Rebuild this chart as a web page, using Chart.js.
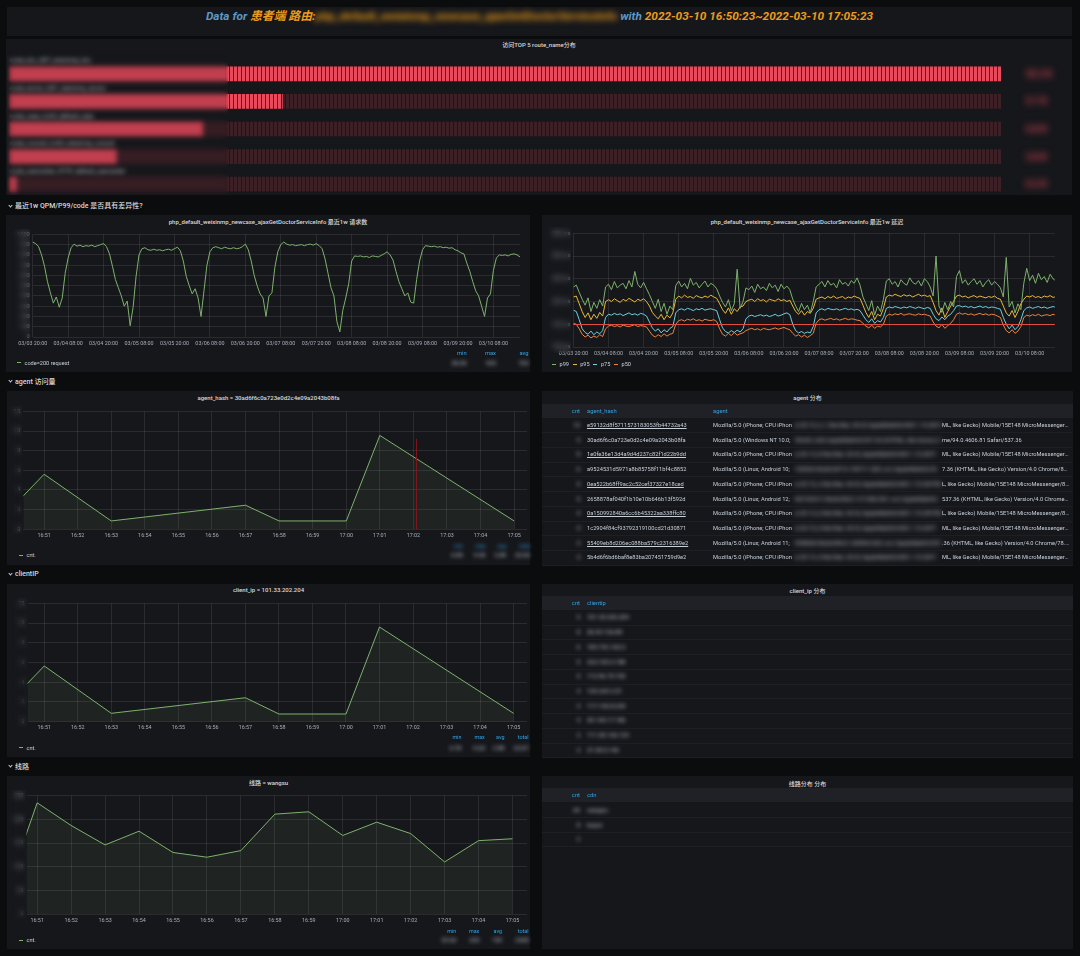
<!DOCTYPE html>
<html><head><meta charset="utf-8"><title>dashboard</title>
<script src="https://cdn.jsdelivr.net/npm/chart.js@4.4.1/dist/chart.umd.min.js"></script>
<style>
*{box-sizing:border-box}
html,body{margin:0;padding:0;width:1080px;height:956px;overflow:hidden;background:#0b0c0e;font-family:Roboto,"Noto Sans CJK SC",sans-serif;color:#d8d9da}
canvas{position:absolute;display:block}
.t{position:absolute;white-space:nowrap;font-size:5.6px;line-height:7px;color:#c7d0d9}
.chev{display:inline-block;width:3px;height:3px;border-right:1px solid #c7d0d9;border-bottom:1px solid #c7d0d9;transform:rotate(45deg);margin:0 3px 2px 1px;vertical-align:middle}
</style></head><body>
<script>
// ================= DATA =================
const ROUTE_NAMES = ['route_doc_GET_weixinmp_doc', 'route_doctor_GET_weixinmp_doctor', 'route_case_AJAX_default_case', 'route_consult_AJAX_weixinmp_consult', 'route_usercenter_HTTP_default_usercenter'];
const ROUTE_COUNTS = [35210, 9680, 6850, 3770, 220];

const WEEK_TICK_HOURS = [0, 12, 24, 36, 48, 60, 72, 84, 96, 108, 120, 132, 144, 156];
const WEEK_TICK_LABELS = ['03/03 20:00', '03/04 08:00', '03/04 20:00', '03/05 08:00', '03/05 20:00', '03/06 08:00', '03/06 20:00', '03/07 08:00', '03/07 20:00', '03/08 08:00', '03/08 20:00', '03/09 08:00', '03/09 20:00', '03/10 08:00'];
const QPM_TICKS = [0, 100, 200, 300, 400, 500, 600, 700, 800, 900, 1000];
// hourly samples from 03/03 20:00
const QPM_200 = [925, 910, 880, 800, 690, 540, 430, 330, 390, 290, 380, 620,
  770, 870, 905, 885, 895, 880, 890, 885, 895, 880, 890, 900, 910, 880,
  810, 690, 560, 480, 400, 300, 350, 110, 290, 590, 800, 860, 870,
  850, 845, 855, 845, 850, 840, 850, 855, 845, 860, 875, 840,
  740, 590, 500, 420, 470, 380, 200, 450, 700, 830,
  870, 880, 870, 860, 875, 865, 860, 870, 860, 865, 880, 905,
  850, 740, 600, 500, 420, 380, 200, 400, 430, 680, 830,
  900, 925, 905, 895, 900, 890, 895, 900, 890, 900, 905, 895, 910, 890,
  860, 760, 620, 480, 400, 150, 50, 260, 380, 520, 740, 790,
  785, 790, 780, 785, 775, 790, 785, 780, 795, 810, 830,
  800, 750, 640, 540, 470, 400, 430, 340, 330, 560, 740, 850,
  890, 885, 880, 885, 875, 880, 870, 875, 865, 870, 850, 840,
  820, 810, 720, 640, 540, 450, 400, 300, 200, 380, 420, 650, 770, 800,
  795, 800, 790, 805, 810, 800, 780];

const LATENCY_TICKS = [100, 150, 200, 250, 300, 350];
const LATENCY_THRESHOLD = 150;
const P99 = [232, 236, 220, 205, 192, 208, 178, 198, 185, 204, 190, 232,
  238, 226, 244, 230, 236, 240, 228, 246, 232, 266, 238, 230, 242, 228,
  215, 200, 185, 205, 178, 196, 172, 190, 182, 235,
  245, 232, 240, 228, 251, 236, 242, 230, 238, 245, 232, 240, 236, 228,
  212, 198, 188, 204, 180, 195, 271, 185, 200, 230,
  226, 234, 220, 238, 228, 232, 224, 240, 230, 236, 222, 238, 228, 234, 226,
  205, 190, 178, 196, 182, 192, 175, 200, 232,
  238, 244, 232, 246, 236, 240, 230, 248, 238, 242, 234, 246, 240, 252, 236,
  210, 195, 180, 202, 170, 190, 178, 205, 245,
  250, 238, 244, 232, 248, 240, 236, 252, 242, 238, 246, 234, 250, 244, 232,
  212, 300, 190, 176, 198, 182, 200, 188, 255,
  268, 240, 248, 236, 244, 250, 238, 246, 232, 242, 248, 236, 244, 238, 230,
  210, 297, 188, 200, 175, 195, 182, 240,
  273, 246, 258, 240, 262, 248, 255, 242, 260, 250, 245];
const P95 = [210, 212, 195, 178, 165, 175, 160, 172, 163, 176, 168, 200,
  204, 200, 206, 202, 198, 205, 201, 207, 203, 199, 205, 202, 206, 200,
  190, 176, 168, 162, 172, 160, 170, 164, 175, 205,
  212, 208, 214, 209, 211, 207, 213, 210, 208, 212, 209, 214, 210, 207,
  195, 182, 174, 186, 172, 184, 178, 188, 190, 200,
  203, 205, 200, 206, 202, 204, 199, 205, 203, 201, 206, 202, 204, 200, 203,
  190, 178, 172, 180, 170, 178, 174, 185, 205,
  208, 210, 206, 211, 208, 212, 207, 209, 211, 206, 210, 208, 212, 209, 207,
  192, 176, 165, 178, 160, 172, 168, 185, 210,
  214, 212, 216, 213, 211, 215, 212, 214, 210, 213, 216, 212, 214, 211, 213,
  198, 180, 170, 186, 165, 178, 190, 200, 212,
  214, 210, 212, 208, 211, 213, 209, 212, 210, 208, 211, 209, 212, 207, 205,
  190, 175, 168, 180, 165, 178, 195, 205,
  212, 210, 213, 209, 211, 208, 212, 210, 213, 209, 211];
const P75 = [181, 178, 160, 140, 132, 128, 135, 127, 133, 129, 136, 165,
  172, 170, 174, 171, 173, 169, 172, 175, 171, 173, 170, 174, 172, 168,
  155, 142, 135, 140, 131, 138, 133, 141, 145, 175,
  182, 184, 181, 185, 183, 180, 184, 182, 185, 181, 183, 184, 182, 180,
  160, 142, 134, 131, 136, 132, 137, 133, 140, 162,
  168, 170, 167, 169, 171, 168, 170, 167, 169, 172, 168, 170, 173, 175, 171,
  150, 136, 131, 134, 130, 133, 131, 145, 175,
  182, 184, 181, 185, 183, 182, 184, 181, 183, 185, 182, 184, 181, 183, 180,
  170, 160, 154, 162, 152, 158, 155, 165, 185,
  188, 186, 189, 187, 185, 188, 186, 189, 187, 185, 188, 186, 184, 187, 185,
  172, 162, 158, 166, 160, 168, 172, 180, 190,
  191, 188, 190, 187, 189, 186, 188, 190, 187, 189, 186, 188, 187, 185, 183,
  165, 150, 140, 148, 138, 145, 160, 180,
  186, 188, 185, 187, 189, 186, 188, 185, 187, 189, 187];
const P50 = [152, 150, 140, 128, 122, 126, 120, 124, 121, 127, 123, 140,
  146, 148, 145, 147, 144, 148, 146, 145, 147, 149, 145, 147, 146, 144,
  135, 126, 122, 127, 123, 129, 124, 128, 130, 150,
  158, 160, 157, 161, 159, 162, 158, 160, 157, 161, 159, 158, 160, 156,
  140, 128, 124, 130, 125, 132, 126, 129, 131, 136,
  139, 141, 138, 140, 137, 141, 139, 138, 140, 142, 139, 141, 143, 140, 138,
  130, 124, 127, 122, 126, 121, 125, 130, 152,
  160, 162, 159, 161, 163, 160, 162, 159, 161, 163, 160, 162, 161, 159, 158,
  152, 146, 142, 148, 141, 146, 144, 150, 168,
  172, 170, 173, 171, 174, 170, 172, 173, 171, 170, 173, 171, 172, 170, 168,
  155, 146, 142, 150, 141, 147, 152, 160, 172,
  175, 172, 174, 171, 173, 170, 172, 174, 171, 173, 170, 172, 171, 168, 165,
  148, 136, 131, 138, 130, 135, 145, 165,
  170, 168, 171, 169, 172, 168, 170, 171, 169, 172, 170];

const MINUTE_TICKS = [1, 2, 3, 4, 5, 6, 7, 8, 9, 10, 11, 12, 13, 14, 15];
const MINUTE_LABELS = ['16:51', '16:52', '16:53', '16:54', '16:55', '16:56', '16:57', '16:58', '16:59', '17:00', '17:01', '17:02', '17:03', '17:04', '17:05'];
const COUNT_TICKS = [0, 2, 4, 6, 8, 10, 12];
const AGENT_MINUTES = [0, 1, 3, 7, 8, 10, 11, 15];
const AGENT_CNT = [2.05, 5.6, 0.85, 2.45, 0.85, 0.85, 9.55, 0.85];
const AGENT_ANNOTATION_MINUTE = 12.08;
const AGENT_ANNOTATION_TOP = 9.2;
const CLIENT_MINUTES = [0, 1, 3, 7, 8, 10, 11, 15];
const CLIENT_CNT = [2.13, 5.65, 0.85, 2.43, 0.78, 0.78, 9.6, 0.85];
const CDN_TICKS = [0, 50, 100, 150, 200, 250];
const CDN_MINUTES = [0, 1, 2, 3, 4, 5, 6, 7, 8, 9, 10, 11, 12, 13, 14, 15];
const CDN_CNT = [29.6, 235, 187, 146, 175, 130, 120, 134, 211, 216, 166, 194, 170, 110, 155, 159];

const AGENT_HASHES = ['e59132d8f5711573183053fb44732a43', '30ad6f6c0a723e0d2c4e09a2043b08fa', '1e0fe36e13d4a9d4d237c82f1d22b9dd', 'a9524531d5971a8b85758f11bf4c8852', '0ea522b68ff9ac2c52cef37327e18ced', '2658878af040f1b10e10b646b13f592d', '0a150992840a6cc6b45322aa338ffc80', '1c2904f84cf93792319100cd21d30871', '55409eb8d206ec088ba579c2316389e2', '5b4d6f6bd6baf8e83ba207451759d9e2'];
const AGENT_HASH_LINKED = [true, false, true, false, true, false, true, false, true, false];
const AGENT_TABLE_CNT = [12, 9, 8, 6, 5, 5, 4, 4, 3, 3];
const AGENT_UA_HEAD = ['Mozilla/5.0 (iPhone; CPU iPhon', 'Mozilla/5.0 (Windows NT 10.0;', 'Mozilla/5.0 (iPhone; CPU iPhon', 'Mozilla/5.0 (Linux; Android 10;', 'Mozilla/5.0 (iPhone; CPU iPhon', 'Mozilla/5.0 (Linux; Android 12;', 'Mozilla/5.0 (iPhone; CPU iPhon', 'Mozilla/5.0 (iPhone; CPU iPhon', 'Mozilla/5.0 (Linux; Android 11;', 'Mozilla/5.0 (iPhone; CPU iPhon'];
const AGENT_UA_MID = ['e OS 15_3_1 like Mac OS X) AppleWebKit/605.1.15 (KHT', ' Win64; x64) AppleWebKit/537.36 (KHTML, like Gecko) Chro', 'e OS 14_8 like Mac OS X) AppleWebKit/605.1.15 (KHT', ' V2036A Build/QP1A.190711.020; wv) AppleWebKit/53', 'e OS 15_2 like Mac OS X) AppleWebKit/605.1.15 (KHTM', ' M2102K1C Build/SKQ1.211006.001; wv) AppleWebKit/', 'e OS 13_6 like Mac OS X) AppleWebKit/605.1.15 (KHTM', 'e OS 15_0 like Mac OS X) AppleWebKit/605.1.15 (KHT', ' PDEM30 Build/RKQ1.200903.002; wv) AppleWebKit/537', 'e OS 14_4 like Mac OS X) AppleWebKit/605.1.15 (KHT'];
const AGENT_UA_TAIL = ['ML, like Gecko) Mobile/15E148 MicroMessenger/8.0.18', 'me/94.0.4606.81 Safari/537.36', 'ML, like Gecko) Mobile/15E148 MicroMessenger/8.0.16', '7.36 (KHTML, like Gecko) Version/4.0 Chrome/86.0.4240', 'L, like Gecko) Mobile/15E148 MicroMessenger/8.0.18', '537.36 (KHTML, like Gecko) Version/4.0 Chrome/86.0', 'L, like Gecko) Mobile/15E148 MicroMessenger/8.0.17', 'ML, like Gecko) Mobile/15E148 MicroMessenger/8.0.18', '.36 (KHTML, like Gecko) Version/4.0 Chrome/78.0.3904', 'ML, like Gecko) Mobile/15E148 MicroMessenger/8.0.15'];

const CLIENT_IPS = ['101.33.202.204', '36.99.136.88', '183.192.163.2', '223.104.3.188', '112.96.70.153', '120.229.2.51', '117.136.8.243', '39.144.17.186', '111.55.126.129', '27.38.5.140'];
const CLIENT_TABLE_CNT = [9, 8, 6, 5, 5, 4, 4, 4, 3, 3];
const CDN_NAMES = ['wangsu', 'ksyun', ''];
const CDN_TABLE_CNT = [64, 8, 2];

// ================= HELPERS =================
const PANEL_BG = '#16171b';
const GRID = 'rgba(255,255,255,0.09)';
const TICK_COLOR = 'rgba(199,208,217,0.8)';
const GREEN = '#7EB26D', YELLOW = '#EAB839', CYAN = '#6ED0E0', ORANGE = '#EF843C', RED = '#E24D42';
const BLUE = '#33a2e5';

function box(x, y, w, h, bg, z) {
  const d = document.createElement('div');
  Object.assign(d.style, { position: 'absolute', left: x + 'px', top: y + 'px', width: w + 'px', height: h + 'px', background: bg || 'transparent' });
  if (z) d.style.zIndex = z;
  document.body.appendChild(d);
  return d;
}
function blurBox(x, y, w, h, r) { const d = box(x, y, w, h, 'transparent', 10); d.style.backdropFilter = 'blur(' + r + 'px)'; d.style.webkitBackdropFilter = 'blur(' + r + 'px)'; return d; }
function text(x, yc, s, o) {
  o = o || {};
  const d = document.createElement('div');
  d.className = 't';
  const lh = o.lh || 8;
  d.style.top = (yc - lh / 2) + 'px';
  d.style.lineHeight = lh + 'px';
  if (o.align === 'right') { d.style.left = (x - 300) + 'px'; d.style.width = '300px'; d.style.textAlign = 'right'; }
  else if (o.align === 'center') { d.style.left = (x - o.w / 2) + 'px'; d.style.width = o.w + 'px'; d.style.textAlign = 'center'; }
  else d.style.left = x + 'px';
  if (o.size) d.style.fontSize = o.size + 'px';
  if (o.color) d.style.color = o.color;
  if (o.weight) d.style.fontWeight = o.weight;
  if (o.blur) d.style.filter = 'blur(' + o.blur + 'px)';
  if (o.underline) d.style.textDecoration = 'underline';
  if (o.z) d.style.zIndex = o.z;
  if (o.html) d.innerHTML = s; else d.textContent = s;
  document.body.appendChild(d);
  return d;
}
function panel(x, y, w, h, title, titleY) {
  box(x, y, w, h, PANEL_BG);
  if (title) text(x + w / 2, titleY, title, { align: 'center', w: w, size: 6, weight: 500, color: '#d8d9da' });
}
function section(yc, s) {
  text(8, yc, '<span class="chev"></span>' + s, { html: true, size: 7, weight: 500, color: '#d8d9da', lh: 10 });
}
function canvasAt(x, y, w, h) {
  const c = document.createElement('canvas');
  c.width = w; c.height = h;
  Object.assign(c.style, { left: x + 'px', top: y + 'px', width: w + 'px', height: h + 'px' });
  document.body.appendChild(c);
  return c;
}
function legendItem(x, yc, color, label) {
  box(x, yc - 0.5, 4, 1, color);
  text(x + 7.5, yc, label, { size: 5.6 });
}
const setTicks = vals => axis => { axis.ticks = vals.map(v => ({ value: v })); };
const fixW = w => axis => { axis.width = w; };
const fixH = h => axis => { axis.height = h; };
const sum = a => a.reduce((s, v) => s + v, 0);
const fmt = v => (Math.abs(v) >= 100 ? Math.round(v).toString() : v.toFixed(2));

Chart.defaults.font.family = 'Roboto, "Noto Sans CJK SC", sans-serif';
Chart.defaults.color = TICK_COLOR;

function xyData(xs, ys) { return ys.map((v, i) => ({ x: xs[i], y: v })); }

function axisPair(o) {
  return {
    x: {
      type: 'linear', min: o.xMin, max: o.xMax,
      afterBuildTicks: setTicks(o.xTicks), afterFit: fixH(o.xH),
      grid: { color: GRID, drawTicks: false }, border: { display: false },
      ticks: { autoSkip: false, maxRotation: 0, padding: o.xPad || 3, font: { size: 5.4 }, callback: (v, i) => o.xLabels[i] }
    },
    y: {
      min: o.yMin, max: o.yMax,
      afterBuildTicks: setTicks(o.yTicks), afterFit: fixW(o.yW),
      grid: { color: GRID, drawTicks: false }, border: { display: false },
      ticks: { padding: 3, font: { size: 5.6 }, callback: o.yFmt || (v => v) }
    }
  };
}

const hLinePlugin = {
  id: 'hline',
  afterDatasetsDraw(chart, args, opts) {
    if (opts.value === undefined) return;
    const { ctx, chartArea: a, scales: { y } } = chart;
    const py = Math.round(y.getPixelForValue(opts.value)) + 0.5;
    ctx.save(); ctx.strokeStyle = opts.color; ctx.lineWidth = 1;
    ctx.beginPath(); ctx.moveTo(a.left, py); ctx.lineTo(a.right, py); ctx.stroke(); ctx.restore();
  }
};
const vLinePlugin = {
  id: 'vline',
  afterDatasetsDraw(chart, args, opts) {
    if (opts.x === undefined) return;
    const { ctx, scales: { x, y } } = chart;
    const px = Math.round(x.getPixelForValue(opts.x)) + 0.5;
    ctx.save(); ctx.strokeStyle = opts.color; ctx.lineWidth = 1;
    ctx.beginPath(); ctx.moveTo(px, y.getPixelForValue(opts.top)); ctx.lineTo(px, y.getPixelForValue(0)); ctx.stroke(); ctx.restore();
  }
};

// ================= LAYOUT =================
// title bar
box(7, 7, 1065, 29, PANEL_BG);
text(539.5, 16.5, '<span style="color:#5d98c6">Data for </span><span style="color:#ec9c1a">患者端 路由:</span><span style="color:#ec9c1a;filter:blur(3px)">php_default_weixinmp_newcase_ajaxGetDoctorServiceInfo</span><span style="color:#5d98c6"> with </span><span style="color:#ec9c1a">2022-03-10 16:50:23~2022-03-10 17:05:23</span>',
  { html: true, align: 'center', w: 1065, size: 11.8, weight: 700, lh: 15 }).style.fontStyle = 'italic';

// panels
panel(6, 39, 1066, 156, '访问TOP 5 route_name分布', 45);
section(206, '最近1w QPM/P99/code 是否具有差异性?');
panel(6, 215, 524, 157, 'php_default_weixinmp_newcase_ajaxGetDoctorServiceInfo 最近1w 请求数', 221.7);
panel(542, 215, 530, 157, 'php_default_weixinmp_newcase_ajaxGetDoctorServiceInfo 最近1w 延迟', 222);
section(381.7, 'agent 访问量');
panel(7, 391, 523, 174, 'agent_hash = 30ad6f6c0a723e0d2c4e09a2043b08fa', 397.7);
panel(542, 391, 531, 174, 'agent 分布', 398);
section(574.3, 'clientIP');
panel(7, 584, 523, 173, 'client_ip = 101.33.202.204', 590);
panel(542, 584, 531, 173, 'client_ip 分布', 590.8);
section(766.7, '线路');
panel(7, 776, 523, 173, '线路 = wangsu', 782.7);
panel(542, 776, 531, 173, '线路分布 分布', 783.6);

// ---------- bar gauge ----------
{
  const c = canvasAt(10, 60, 991, 138);
  const g = c.getContext('2d');
  function cells(on, off) {
    const p = document.createElement('canvas'); p.width = 4; p.height = 4;
    const pg = p.getContext('2d');
    pg.fillStyle = off; pg.fillRect(0, 0, 4, 4);
    pg.fillStyle = on; pg.fillRect(0, 0, 3, 4);
    return g.createPattern(p, 'repeat');
  }
  const maxV = Math.max(...ROUTE_COUNTS);
  new Chart(c, {
    type: 'bar',
    data: {
      labels: ROUTE_NAMES, datasets: [
        { data: ROUTE_COUNTS, backgroundColor: cells('#e8495b', '#4a1f29'), barThickness: 14, grouped: false, order: 0, borderWidth: 0 },
        { data: ROUTE_COUNTS.map(() => maxV), backgroundColor: cells('#3d1f26', '#1d1719'), barThickness: 14, grouped: false, order: 1, borderWidth: 0 }
      ]
    },
    options: {
      indexAxis: 'y', responsive: false, animation: false, events: [], layout: { padding: 0 },
      scales: { x: { display: false, min: 0, max: maxV }, y: { display: false } },
      plugins: { legend: { display: false }, tooltip: { enabled: false } }
    }
  });
  const labelY = [60, 88.3, 115.7, 143.3, 171];
  const barY = [73.7, 101.3, 128.9, 156.5, 184.1];
  ROUTE_NAMES.forEach((n, i) => {
    text(10, labelY[i], n, { size: 6, color: '#d8d9da' });
    text(1026, barY[i], (ROUTE_COUNTS[i] / 1000).toFixed(1) + ' K', { size: 9, weight: 700, color: '#e0485a', blur: 3.5, lh: 12 });
  });
  blurBox(7, 52, 221, 143, 2.8);
}

// ---------- 1w QPM ----------
{
  const c = canvasAt(7, 228, 523, 122);
  new Chart(c, {
    type: 'line',
    data: { datasets: [{ data: xyData(QPM_200.map((_, i) => i), QPM_200), borderColor: GREEN, borderWidth: 1, pointRadius: 0, tension: 0, fill: false }] },
    options: {
      responsive: false, animation: false, events: [],
      layout: { padding: { top: 6.3, right: 10, left: 0, bottom: 0 } },
      scales: axisPair({ xMin: 0, xMax: 165, xTicks: WEEK_TICK_HOURS, xLabels: WEEK_TICK_LABELS, xH: 13, yMin: 0, yMax: 1000, yTicks: QPM_TICKS, yW: 25.7 }),
      plugins: { legend: { display: false }, tooltip: { enabled: false } }
    }
  });
  blurBox(8, 229, 22, 112, 3);
  legendItem(17, 362.7, GREEN, 'code=200 request');
  const st = [Math.min(...QPM_200), Math.max(...QPM_200), sum(QPM_200) / QPM_200.length];
  const rx = [466.6, 496, 528.6];
  ['min', 'max', 'avg'].forEach((h, i) => {
    text(rx[i], 353.3, h, { align: 'right', size: 5.8, color: BLUE });
    text(rx[i], 362.7, fmt(st[i]), { align: 'right', size: 6, blur: 2.2 });
  });
}

// ---------- 1w latency ----------
{
  const c = canvasAt(542, 226, 530, 134);
  const hrs = P99.map((_, i) => i);
  const ds = (d, col) => ({ data: xyData(hrs, d), borderColor: col, borderWidth: 1, pointRadius: 0, tension: 0, fill: false });
  new Chart(c, {
    type: 'line',
    data: { datasets: [ds(P99, GREEN), ds(P95, YELLOW), ds(P75, CYAN), ds(P50, ORANGE)] },
    options: {
      responsive: false, animation: false, events: [],
      layout: { padding: { top: 7.3, right: 17.2, left: 0, bottom: 0 } },
      scales: axisPair({ xMin: 0, xMax: 164.6, xTicks: WEEK_TICK_HOURS, xLabels: WEEK_TICK_LABELS, xH: 13, yMin: 100, yMax: 350, yTicks: LATENCY_TICKS, yW: 31.4, yFmt: v => v + ' ms' }),
      plugins: { legend: { display: false }, tooltip: { enabled: false }, hline: { value: LATENCY_THRESHOLD, color: RED } }
    },
    plugins: [hLinePlugin]
  });
  blurBox(544, 227, 27, 126, 3);
  legendItem(552, 364.3, GREEN, 'p99');
  legendItem(572.7, 364.3, YELLOW, 'p95');
  legendItem(593.4, 364.3, CYAN, 'p75');
  legendItem(614, 364.3, ORANGE, 'p50');
}

// ---------- minute charts ----------
function minuteChart(o) {
  const c = canvasAt(o.x, o.y, 523, o.h);
  new Chart(c, {
    type: 'line',
    data: { datasets: [{ data: xyData(o.minutes, o.values), borderColor: GREEN, borderWidth: 1, pointRadius: 0, tension: 0, fill: 'origin', backgroundColor: 'rgba(126,178,109,0.09)' }] },
    options: {
      responsive: false, animation: false, events: [],
      layout: { padding: { top: o.padTop, right: 3, left: 0, bottom: 0 } },
      scales: axisPair({ xMin: o.xMin, xMax: o.xMax, xTicks: MINUTE_TICKS, xLabels: MINUTE_LABELS, xH: o.xH, yMin: 0, yMax: o.yTicks[o.yTicks.length - 1], yTicks: o.yTicks, yW: o.yW }),
      plugins: { legend: { display: false }, tooltip: { enabled: false }, vline: o.annotation || {} }
    },
    plugins: [vLinePlugin]
  });
  blurBox(8, o.y + 1, o.yW - 2, o.h - o.xH + 4, 3);
  legendItem(19, o.legendY, GREEN, 'cnt.');
  const st = [Math.min(...o.values), Math.max(...o.values), sum(o.values) / o.values.length, sum(o.values)];
  ['min', 'max', 'avg', 'total'].forEach((h, i) => {
    text(o.statX[i], o.headY, h, { align: 'right', size: 5.4, color: BLUE, blur: o.blurHead ? 2 : 0 });
    text(o.statX[i], o.legendY, fmt(st[i]), { align: 'right', size: 6, blur: 2.2 });
  });
}
minuteChart({ x: 7, y: 405, h: 140, padTop: 6, xH: 15.7, yW: 16.4, xMin: 23 / 60, xMax: 15 + 23 / 60, minutes: AGENT_MINUTES, values: AGENT_CNT, yTicks: COUNT_TICKS,
  annotation: { x: AGENT_ANNOTATION_MINUTE, top: AGENT_ANNOTATION_TOP, color: 'rgba(140,20,28,0.9)' },
  legendY: 555, headY: 545.7, statX: [463, 485.5, 506, 530], blurHead: true });
minuteChart({ x: 7, y: 597, h: 140, padTop: 6.3, xH: 15.3, yW: 20.5, xMin: 0.5, xMax: 15.4, minutes: CLIENT_MINUTES, values: CLIENT_CNT, yTicks: COUNT_TICKS,
  legendY: 747.7, headY: 737.3, statX: [461.4, 484.8, 504.5, 528.6] });
minuteChart({ x: 7, y: 789, h: 141, padTop: 6.7, xH: 16, yW: 19.5, xMin: 0.685, xMax: 15.427, minutes: CDN_MINUTES, values: CDN_CNT, yTicks: CDN_TICKS,
  legendY: 940, headY: 930.7, statX: [456.3, 479.3, 502, 528.6] });

// ---------- tables ----------
function tableFrame(headTop, headH, rowY0, rowH, nRows, headers) {
  box(542, headTop, 531, headH, '#1f2126');
  headers.forEach(h => text(h.x, headTop + headH / 2, h.t, { align: h.right ? 'right' : undefined, size: 5.8, color: BLUE }));
  for (let i = 0; i < nRows; i++) box(542, rowY0 + i * rowH + rowH / 2, 531, 1, '#1d1f23');
}
// agent table
tableFrame(404.3, 13.4, 425, 14.7, 10, [{ x: 580, t: 'cnt', right: true }, { x: 587, t: 'agent_hash' }, { x: 713, t: 'agent' }]);
AGENT_HASHES.forEach((h, i) => {
  const yc = 425 + i * 14.7;
  text(580, yc, String(AGENT_TABLE_CNT[i]), { align: 'right', size: 6, blur: 2.2 });
  text(587, yc, h, { size: 5.7, underline: AGENT_HASH_LINKED[i] });
  const head = text(713, yc, AGENT_UA_HEAD[i], { size: 5.7 });
  Object.assign(head.style, { width: '82px', overflow: 'hidden' });
  const mid = text(795, yc, AGENT_UA_MID[i], { size: 5.9, blur: 2.6 });
  Object.assign(mid.style, { width: '146px', overflow: 'hidden' });
  const tail = text(942, yc, AGENT_UA_TAIL[i], { size: 5.7 });
  Object.assign(tail.style, { width: '128px', overflow: 'hidden', textOverflow: 'ellipsis' });
});
// client table
tableFrame(596, 14, 617.3, 14.74, 10, [{ x: 580, t: 'cnt', right: true }, { x: 587, t: 'clientip' }]);
CLIENT_IPS.forEach((ip, i) => {
  const yc = 617.3 + i * 14.74;
  text(580, yc, String(CLIENT_TABLE_CNT[i]), { align: 'right', size: 6, blur: 2.2 });
  text(587, yc, ip, { size: 6, blur: 2.2 });
});
// cdn table
tableFrame(788.3, 14, 810, 14.5, 3, [{ x: 580, t: 'cnt', right: true }, { x: 587, t: 'cdn' }]);
CDN_NAMES.forEach((n, i) => {
  const yc = 810 + i * 14.5;
  text(580, yc, String(CDN_TABLE_CNT[i]), { align: 'right', size: 6, blur: 2.2 });
  if (n) text(587, yc, n, { size: 6, blur: 2.2 });
});
</script>
</body></html>
